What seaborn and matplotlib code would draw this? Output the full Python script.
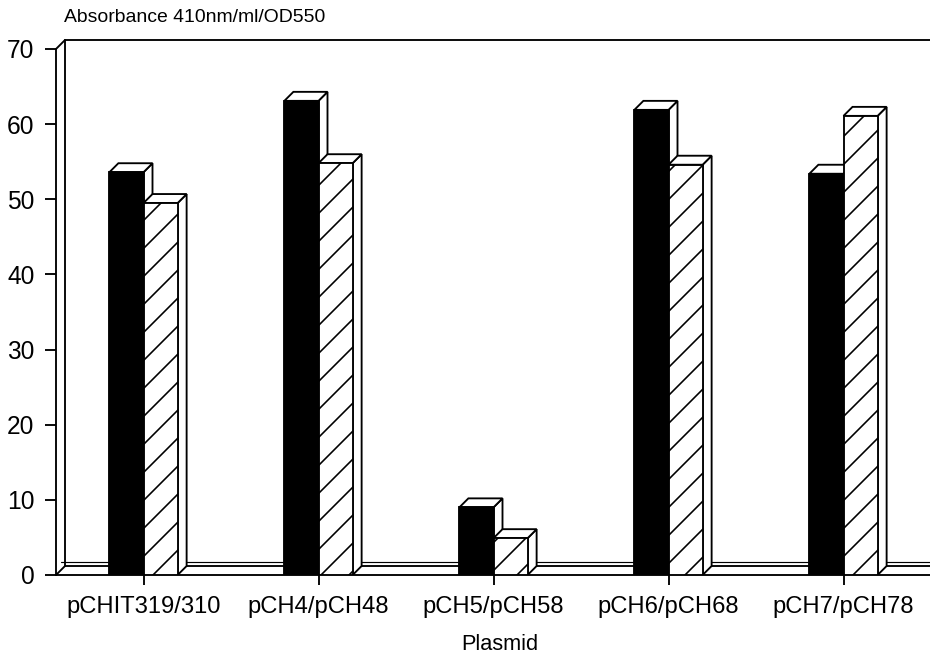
import numpy as np
import pandas as pd
import matplotlib
matplotlib.use("Agg")
import matplotlib.pyplot as plt
from matplotlib.patches import Polygon
import seaborn as sns

# ---- data ----
categories = ["pCHIT319/310", "pCH4/pCH48", "pCH5/pCH58", "pCH6/pCH68", "pCH7/pCH78"]
series_names = ["solid", "hatched"]
black_values = [53.6, 63.1, 9.0, 61.9, 53.4]
hatched_values = [49.5, 54.8, 4.9, 54.6, 61.1]
y_ticks = [0, 10, 20, 30, 40, 50, 60, 70]
y_label = "Absorbance 410nm/ml/OD550"
x_label = "Plasmid"

df = pd.DataFrame({
    "Plasmid": categories * 2,
    "Series": [series_names[0]] * len(categories) + [series_names[1]] * len(categories),
    "Value": black_values + hatched_values,
})

# ---- figure ----
DPI = 168
W, H = 930, 655
sns.set_style("ticks")
plt.rcParams["font.family"] = ["Liberation Sans", "DejaVu Sans"]
plt.rcParams["hatch.linewidth"] = 0.7
plt.rcParams["hatch.color"] = "black"
for k in ["text.color", "axes.labelcolor", "xtick.color", "ytick.color", "axes.edgecolor"]:
    plt.rcParams[k] = "black"

fig = plt.figure(figsize=(W / DPI, H / DPI), dpi=DPI)
ax_l, ax_b, ax_w, ax_h = 56, 80, 875, 526
ax = fig.add_axes([ax_l / W, ax_b / H, ax_w / W, ax_h / H])

sns.barplot(data=df, x="Plasmid", y="Value", hue="Series",
            palette=["black", "white"], width=0.39, gap=0, dodge=True,
            saturation=1, legend=False, ax=ax, edgecolor="black", linewidth=0.8)

ymax = y_ticks[-1]
ax.set_xlim(-0.5, len(categories) - 0.5)
ax.set_ylim(0, ymax)

# depth offsets (pixels -> data units)
px_x = ax_w / len(categories)
px_y = ax_h / ymax
dx = 9 / px_x
dy = 9 / px_y

for p in list(ax.patches):
    x0 = p.get_x()
    w = p.get_width()
    h = p.get_height()
    is_hatched = p.get_facecolor()[0] > 0.5
    z = 4 if is_hatched else 3
    p.set_zorder(z)
    if is_hatched:
        p.set_hatch("//")
    top = Polygon([(x0, h), (x0 + w, h), (x0 + w + dx, h + dy), (x0 + dx, h + dy)],
                  closed=True, facecolor="white", edgecolor="black", linewidth=0.8,
                  zorder=z - 0.1, joinstyle="miter")
    side = Polygon([(x0 + w, 0), (x0 + w + dx, dy), (x0 + w + dx, h + dy), (x0 + w, h)],
                   closed=True, facecolor="white", edgecolor="black", linewidth=0.8,
                   zorder=z - 0.1, joinstyle="miter")
    ax.add_patch(side)
    ax.add_patch(top)

# back wall / floor
xmin, xmax = -0.5, len(categories) - 0.5 + 0.2
lk = dict(color="black", lw=0.8, clip_on=False, zorder=1)
ax.plot([xmin, xmin + dx], [ymax, ymax + dy], **lk)
ax.plot([xmin + dx, xmax], [ymax + dy, ymax + dy], **lk)
ax.plot([xmin + dx, xmin + dx], [dy, ymax + dy], **lk)
ax.plot([xmin, xmin + dx], [0, dy], **lk)
ax.plot([xmin + dx, xmax], [dy, dy], **lk)
ax.plot([xmin + dx * 0.6, xmax], [dy * 1.4, dy * 1.4], color="black", lw=0.5, clip_on=False, zorder=1)

sns.despine(ax=ax, top=True, right=True)
ax.spines["left"].set_linewidth(0.8)
ax.spines["bottom"].set_linewidth(0.8)
ax.set_yticks(y_ticks)
ax.set_yticklabels([str(t) for t in y_ticks])
ax.tick_params(axis="y", length=4.7, width=0.8, pad=4.5, labelsize=10.5)
ax.tick_params(axis="x", length=4.3, width=0.8, pad=4.5, labelsize=10.2)
ax.set_ylabel("")
ax.set_xlabel(x_label, fontsize=9.3, labelpad=7)
ax.xaxis.label.set_x(0.5 + 6 / ax_w)

fig.text(64 / W, 1 - 18 / H, y_label, ha="left", va="center", fontsize=8.3)

fig.savefig("out.png", dpi=DPI)
